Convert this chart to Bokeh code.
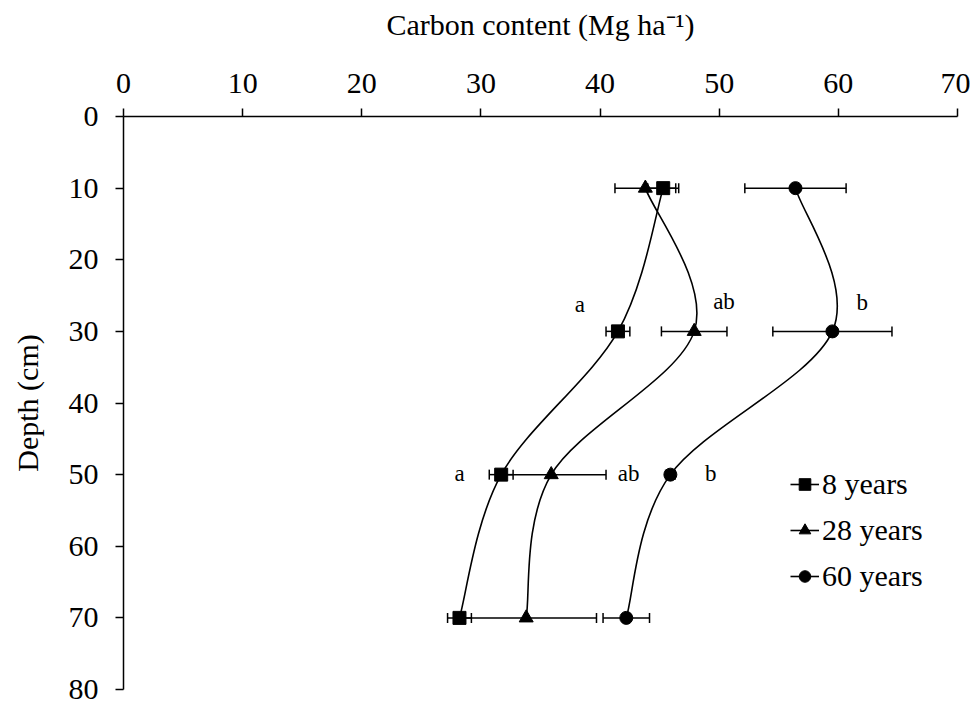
import numpy as np
from bokeh.plotting import figure
from bokeh.models import (ColumnDataSource, Whisker, TeeHead, Legend, LegendItem,
                          Range1d, SingleIntervalTicker)
from bokeh.core.properties import value
from bokeh.embed import file_html
from bokeh.resources import INLINE

# ---- data ----
depth = [10, 30, 50, 70]
c8 = [45.3, 41.5, 31.7, 28.2]
e8 = [1.3, 1.0, 1.0, 1.0]
c28 = [43.8, 47.9, 35.9, 33.8]
e28 = [2.55, 2.75, 4.6, 5.9]
c60 = [56.4, 59.5, 45.9, 42.2]
e60 = [4.25, 5.0, 0.4, 1.95]
series_names = ["8 years", "28 years", "60 years"]
series_markers = ["square", "triangle", "circle"]

lab_text = ["a", "ab", "b", "a", "ab", "b"]
lab_x = [38.3, 50.4, 62.0, 28.2, 42.4, 49.3]
lab_y = [26.3, 25.8, 25.9, 49.8, 49.8, 49.8]

FONT = "Liberation Serif"

p = figure(width=970, height=708, output_backend="svg", toolbar_location=None,
           x_axis_location="above",
           x_range=Range1d(0, 70), y_range=Range1d(80, 0),
           min_border_left=123, min_border_right=13, min_border_top=116,
           min_border_bottom=19)
p.outline_line_color = None
p.grid.visible = False
p.background_fill_color = "white"

for ax in (p.xaxis[0], p.yaxis[0]):
    ax.ticker = SingleIntervalTicker(interval=10)
    ax.minor_tick_line_color = None
    ax.major_tick_in = 0
    ax.major_tick_out = 8
    ax.axis_line_color = "black"
    ax.axis_line_width = 1.5
    ax.major_tick_line_color = "black"
    ax.major_tick_line_width = 1.5
    ax.major_label_text_font = FONT
    ax.major_label_text_font_size = "30px"
    ax.major_label_text_color = "black"
    ax.axis_label_text_font = FONT
    ax.axis_label_text_font_size = "30px"
    ax.axis_label_text_font_style = "normal"
    ax.axis_label_text_color = "black"

p.xaxis.axis_label = "Carbon content (Mg ha\u207b\u00b9)"
p.xaxis.major_label_standoff = 16
p.xaxis.axis_label_standoff = 30
p.yaxis.axis_label = "Depth (cm)"
p.yaxis.major_label_standoff = 17
p.yaxis.axis_label_standoff = 22


def smooth_bezier(xs, ys, t=1.0 / 6.0):
    xs = np.asarray(xs, float)
    ys = np.asarray(ys, float)
    n = len(xs)
    x0, y0, x1, y1, cx0, cy0, cx1, cy1 = ([] for _ in range(8))
    for i in range(n - 1):
        im = max(i - 1, 0)
        ip = min(i + 2, n - 1)
        x0.append(xs[i]); y0.append(ys[i])
        x1.append(xs[i + 1]); y1.append(ys[i + 1])
        cx0.append(xs[i] + (xs[i + 1] - xs[im]) * t)
        cy0.append(ys[i] + (ys[i + 1] - ys[im]) * t)
        cx1.append(xs[i + 1] - (xs[ip] - xs[i]) * t)
        cy1.append(ys[i + 1] - (ys[ip] - ys[i]) * t)
    return dict(x0=x0, y0=y0, x1=x1, y1=y1, cx0=cx0, cy0=cy0, cx1=cx1, cy1=cy1)


items = []
for c, e, name, mk in zip([c8, c28, c60], [e8, e28, e60], series_names, series_markers):
    src = ColumnDataSource(dict(x=c, y=depth,
                                lo=[a - b for a, b in zip(c, e)],
                                hi=[a + b for a, b in zip(c, e)]))
    w = Whisker(source=src, base="y", lower="lo", upper="hi", dimension="width",
                line_color="black", line_width=1.5,
                upper_head=TeeHead(size=10, line_color="black", line_width=1.5),
                lower_head=TeeHead(size=10, line_color="black", line_width=1.5))
    p.add_layout(w)
    bz = ColumnDataSource(smooth_bezier(c, depth))
    br = p.bezier(x0="x0", y0="y0", x1="x1", y1="y1", cx0="cx0", cy0="cy0",
                  cx1="cx1", cy1="cy1", source=bz, line_color="black", line_width=1.6)
    size = 14 if mk == "triangle" else 13
    sc = p.scatter("x", "y", source=src, marker=mk, size=size,
                   fill_color="black", line_color="black")
    items.append(LegendItem(label=name, renderers=[br, sc]))

lsrc = ColumnDataSource(dict(x=lab_x, y=lab_y, t=lab_text))
p.text(x="x", y="y", text="t", source=lsrc, text_align="center",
       text_baseline="alphabetic", text_font=value(FONT), text_font_size="23px",
       text_color="black")

legend = Legend(items=items, location=(667, 93), glyph_width=29, glyph_height=40,
                label_height=40, spacing=6, padding=0, margin=0,
                border_line_color=None, background_fill_alpha=0,
                label_text_font=FONT, label_text_font_size="30px",
                label_standoff=3, label_text_color="black")
p.add_layout(legend)

open("out.html", "w").write(file_html(p, INLINE))
